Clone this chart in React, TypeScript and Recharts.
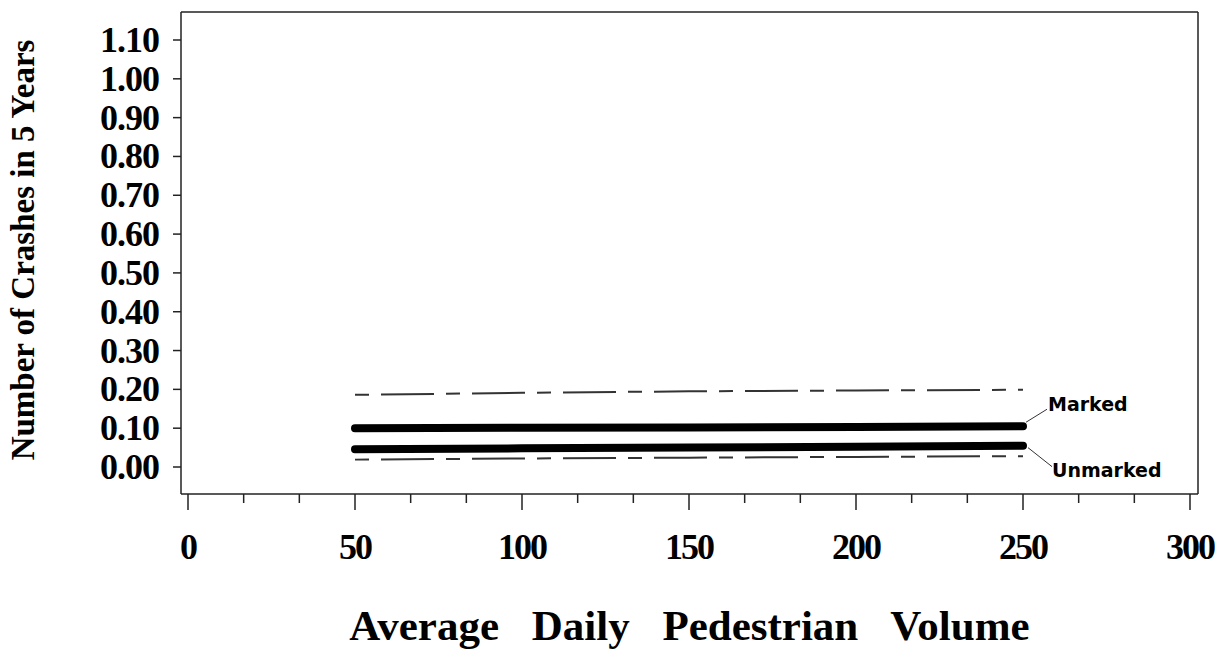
import { LineChart, Line, XAxis, YAxis } from 'recharts';

// x positions
const volumes = [50, 100, 150, 200, 250];
const marked = [0.1, 0.101, 0.102, 0.103, 0.105];
const unmarked = [0.046, 0.048, 0.05, 0.052, 0.055];
const upperBand = [0.186, 0.191, 0.195, 0.197, 0.199];
const lowerBand = [0.019, 0.022, 0.024, 0.026, 0.028];

const xTicks = [0, 16.667, 33.333, 50, 66.667, 83.333, 100, 116.667, 133.333, 150,
  166.667, 183.333, 200, 216.667, 233.333, 250, 266.667, 283.333, 300];
const yTicks = [0, 0.1, 0.2, 0.3, 0.4, 0.5, 0.6, 0.7, 0.8, 0.9, 1.0, 1.1];

const data = volumes.map((v, i) => ({
  volume: v,
  marked: marked[i],
  unmarked: unmarked[i],
  upper: upperBand[i],
  lower: lowerBand[i],
}));

const AXIS = '#222';
const SERIF = '"Liberation Serif", "Times New Roman", serif';
const SANS = '"DejaVu Sans", Verdana, sans-serif';

function XTick({ x, y, payload }: any) {
  const v = payload.value as number;
  const major = Math.abs(v - Math.round(v / 50) * 50) < 0.01;
  return (
    <g>
      <line x1={x} x2={x} y1={y} y2={y + (major ? 16 : 9)} stroke={AXIS} strokeWidth={1.5} />
      {major && (
        <text x={x} y={y + 53} textAnchor="middle" dominantBaseline="central"
          fontFamily={SERIF} fontWeight="bold" fontSize={36} letterSpacing={-2} fill="#000">
          {Math.round(v)}
        </text>
      )}
    </g>
  );
}

function YTick({ x, y, payload }: any) {
  return (
    <g>
      <line x1={x - 8} x2={x} y1={y} y2={y} stroke={AXIS} strokeWidth={1.5} />
      <text x={x - 22} y={y} textAnchor="end" dominantBaseline="central"
        fontFamily={SERIF} fontWeight="bold" fontSize={36} letterSpacing={-1} fill="#000">
        {Number(payload.value).toFixed(2)}
      </text>
    </g>
  );
}

function endLabel(name: string, below: boolean) {
  return (p: any) => {
    if (p.index !== data.length - 1) return null;
    const { x, y } = p;
    return below ? (
      <g>
        <line x1={x + 5} y1={y + 2} x2={x + 29} y2={y + 21} stroke="#333" strokeWidth={1} />
        <text x={x + 29} y={y + 31} fontFamily={SANS} fontWeight="bold" fontSize={19} fill="#000">{name}</text>
      </g>
    ) : (
      <g>
        <line x1={x + 3} y1={y - 4} x2={x + 24} y2={y - 17} stroke="#333" strokeWidth={1} />
        <text x={x + 25} y={y - 15} fontFamily={SANS} fontWeight="bold" fontSize={19} fill="#000">{name}</text>
      </g>
    );
  };
}

export default function App() {
  return (
    <div style={{ position: 'absolute', left: 0, top: 0 }}>
      <LineChart width={1220} height={652} data={data} margin={{ top: 11, right: 21, left: 0, bottom: 0 }}>
        <XAxis
          dataKey="volume"
          type="number"
          domain={[0, 300]}
          ticks={xTicks}
          interval={0}
          padding={{ left: 7, right: 8 }}
          height={158}
          tickSize={0}
          tickMargin={0}
          tickLine={false}
          axisLine={{ stroke: AXIS, strokeWidth: 1.5 }}
          tick={<XTick />}
          label={{
            content: ({ viewBox }: any) => (
              <text x={viewBox.x + viewBox.width / 2} y={viewBox.y + 131} textAnchor="middle"
                dominantBaseline="central" fontFamily={SERIF} fontWeight="bold" fontSize={43}
                wordSpacing={22} fill="#000">
                Average Daily Pedestrian Volume
              </text>
            ),
          }}
        />
        <XAxis xAxisId="top" dataKey="volume" type="number" domain={[0, 300]} orientation="top"
          height={1} tick={false} tickLine={false} axisLine={{ stroke: AXIS, strokeWidth: 1.5 }} />
        <YAxis
          type="number"
          domain={[0, 1.1]}
          ticks={yTicks}
          interval={0}
          padding={{ top: 28, bottom: 27 }}
          width={181}
          tickSize={0}
          tickMargin={0}
          tickLine={false}
          axisLine={{ stroke: AXIS, strokeWidth: 1.5 }}
          tick={<YTick />}
          label={{
            content: ({ viewBox }: any) => {
              const cx = viewBox.x + 23;
              const cy = viewBox.y + viewBox.height / 2 - 3;
              return (
                <text x={cx} y={cy} transform={`rotate(-90 ${cx} ${cy})`} textAnchor="middle"
                  dominantBaseline="central" fontFamily={SERIF} fontWeight="bold" fontSize={33} fill="#000">
                  Number of Crashes in 5 Years
                </text>
              );
            },
          }}
        />
        <YAxis yAxisId="right" type="number" domain={[0, 1.1]} orientation="right" width={1}
          tick={false} tickLine={false} axisLine={{ stroke: AXIS, strokeWidth: 1.5 }} />
        <Line dataKey="upper" stroke="#333" strokeWidth={2} strokeDasharray="14 12 53 12"
          dot={false} isAnimationActive={false} />
        <Line dataKey="lower" stroke="#333" strokeWidth={2} strokeDasharray="14 12 53 12"
          dot={false} isAnimationActive={false} />
        <Line dataKey="marked" stroke="#000" strokeWidth={8} strokeLinecap="round"
          dot={false} isAnimationActive={false} label={endLabel('Marked', false)} />
        <Line dataKey="unmarked" stroke="#000" strokeWidth={8} strokeLinecap="round"
          dot={false} isAnimationActive={false} label={endLabel('Unmarked', true)} />
      </LineChart>
    </div>
  );
}
